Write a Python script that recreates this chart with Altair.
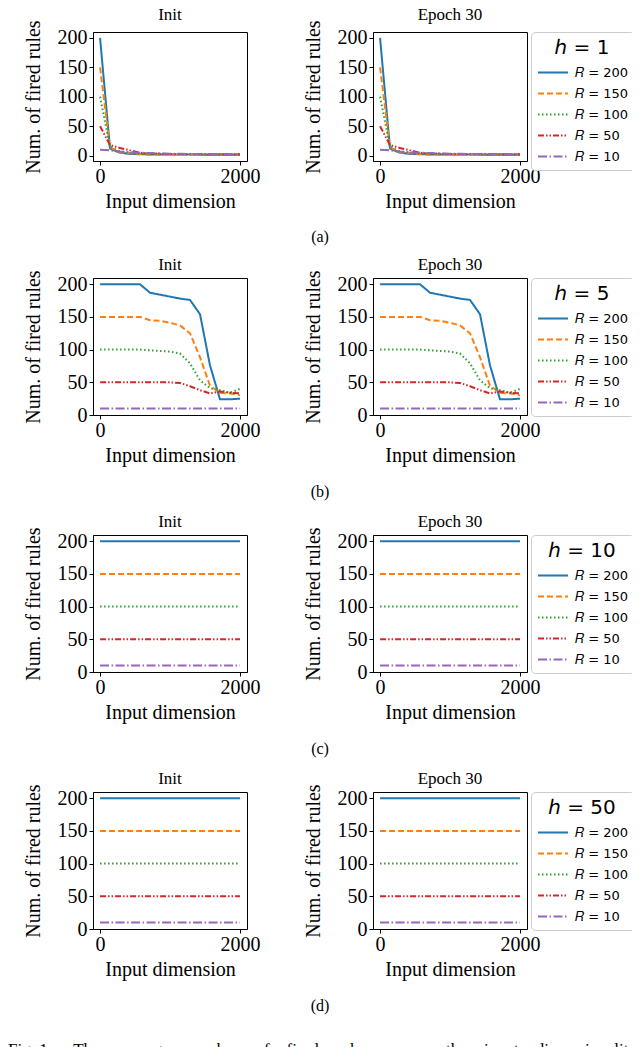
import altair as alt
import pandas as pd

# ---------------- data ----------------
X_DIM = [1, 143, 286, 429, 571, 714, 857, 1000, 1143, 1286, 1429, 1571, 1714, 1857, 2000]
R_VALUES = ["200", "150", "100", "50", "10"]
H_VALUES = ["1", "5", "10", "50"]
STAGES = ["Init", "Epoch 30"]
CAPTIONS = ["(a)", "(b)", "(c)", "(d)"]

# h = 1 (rows: R = 200, 150, 100, 50, 10)
H1_R200 = [200, 12, 5, 3, 2.5, 2, 2, 2, 2, 2, 1.8, 1.8, 1.8, 1.8, 1.8]
H1_R150 = [150, 14, 6, 4, 3, 2.5, 2.3, 2.2, 2, 2, 2, 2, 2, 2, 2]
H1_R100 = [100, 15, 7, 4.5, 3.5, 3, 2.5, 2.3, 2.2, 2, 2, 2, 2, 2, 2]
H1_R50 = [50, 18, 13, 9, 5, 4, 3.5, 3, 3, 2.8, 2.5, 2.5, 2.5, 2.5, 2.5]
H1_R10 = [10, 9, 7, 6, 5, 4.5, 4, 3.5, 3.2, 3, 3, 2.8, 2.7, 2.6, 2.5]

# h = 5
H5_R200 = [200, 200, 200, 200, 200, 187, 184, 181, 178, 176, 154, 76, 24, 24, 25]
H5_R150 = [150, 150, 150, 150, 150, 145, 144, 141, 137, 125, 88, 45, 34, 33, 30]
H5_R100 = [100, 100, 100, 100, 100, 99, 98, 97, 94, 79, 53, 41, 38, 34, 40]
H5_R50 = [50, 50, 50, 50, 50, 50, 50, 50, 49, 44, 38, 33, 36, 34, 33]
H5_R10 = [10, 10, 10, 10, 10, 10, 10, 10, 10, 10, 10, 10, 10, 10, 10]

# h = 10
H10_R200 = [200, 200, 200, 200, 200, 200, 200, 200, 200, 200, 200, 200, 200, 200, 200]
H10_R150 = [150, 150, 150, 150, 150, 150, 150, 150, 150, 150, 150, 150, 150, 150, 150]
H10_R100 = [100, 100, 100, 100, 100, 100, 100, 100, 100, 100, 100, 100, 100, 100, 100]
H10_R50 = [50, 50, 50, 50, 50, 50, 50, 50, 50, 50, 50, 50, 50, 50, 50]
H10_R10 = [10, 10, 10, 10, 10, 10, 10, 10, 10, 10, 10, 10, 10, 10, 10]

# h = 50
H50_R200 = [200, 200, 200, 200, 200, 200, 200, 200, 200, 200, 200, 200, 200, 200, 200]
H50_R150 = [150, 150, 150, 150, 150, 150, 150, 150, 150, 150, 150, 150, 150, 150, 150]
H50_R100 = [100, 100, 100, 100, 100, 100, 100, 100, 100, 100, 100, 100, 100, 100, 100]
H50_R50 = [50, 50, 50, 50, 50, 50, 50, 50, 50, 50, 50, 50, 50, 50, 50]
H50_R10 = [10, 10, 10, 10, 10, 10, 10, 10, 10, 10, 10, 10, 10, 10, 10]

SERIES = {
    "1": [H1_R200, H1_R150, H1_R100, H1_R50, H1_R10],
    "5": [H5_R200, H5_R150, H5_R100, H5_R50, H5_R10],
    "10": [H10_R200, H10_R150, H10_R100, H10_R50, H10_R10],
    "50": [H50_R200, H50_R150, H50_R100, H50_R50, H50_R10],
}

GAP = "\u00a0" * 4
FIG_CAPTION = ("Fig.\u00a01." + "\u00a0" * 5 + "The" + GAP + "average" + GAP + "number" + GAP + "of"
               + GAP + "fired" + GAP + "rules" + GAP + "versus" + GAP + "the" + GAP + "input"
               + GAP + "dimensionality")

# ---------------- styling ----------------
COLORS = ["#1f77b4", "#ff7f0e", "#2ca02c", "#d62728", "#9467bd"]
DASHES = [[1, 0], [6, 3], [1.5, 2.5], [6, 2, 1.5, 2, 1.5, 2], [9, 2.5, 1.5, 2.5]]
SERIF = "Liberation Serif"
LEGEND_SYMBOL = "M-1,0L3,0"
PANEL_W = 154
PANEL_H = [129, 137, 137, 137]
ORIGIN_X = 93          # page x of the left plot edge
ORIGIN_Y = 32          # page y of the first plot's top edge
CAP_H = [41, 44, 44, 50]
CAP_Y = [24, 25, 25, 25]


def frame(h):
    rows = []
    for stage in STAGES:
        for r, vals in zip(R_VALUES, SERIES[h]):
            for x, y in zip(X_DIM, vals):
                rows.append({"stage": stage, "R": r, "x": x, "y": y})
    return pd.DataFrame(rows)


def panel(df, h, stage, ydomain, height):
    leg = alt.Legend(title="\u210e = " + h, labelExpr="'\U0001D445 = ' + datum.label")
    return (
        alt.Chart(df)
        .transform_filter(alt.datum.stage == stage)
        .mark_line(strokeWidth=2, clip=True)
        .encode(
            x=alt.X("x:Q",
                    scale=alt.Scale(domain=[-100, 2100], nice=False, zero=False),
                    axis=alt.Axis(values=[0, 2000], format="d", title="Input dimension")),
            y=alt.Y("y:Q",
                    scale=alt.Scale(domain=ydomain, nice=False, zero=False),
                    axis=alt.Axis(values=[0, 50, 100, 150, 200], format="d",
                                  title="Num. of fired rules")),
            color=alt.Color("R:N", sort=R_VALUES,
                            scale=alt.Scale(domain=R_VALUES, range=COLORS), legend=leg),
            strokeDash=alt.StrokeDash("R:N", sort=R_VALUES,
                                      scale=alt.Scale(domain=R_VALUES, range=DASHES), legend=leg),
            detail="R:N",
        )
        .properties(width=PANEL_W, height=height, title=stage)
    )


def text_chart(text, x, y, align, baseline, size, height, width):
    return (
        alt.Chart(pd.DataFrame({"t": [text]}))
        .mark_text(font=SERIF, fontSize=size, align=align, baseline=baseline, color="black")
        .encode(x=alt.value(x), y=alt.value(y), text="t:N")
        .properties(width=width, height=height,
                    view=alt.ViewBackground(stroke="transparent"))
    )


parts = []
for i, h in enumerate(H_VALUES):
    df = frame(h)
    ydom = [-9, 210] if h == "1" else [0, 209.5]
    row = alt.hconcat(
        panel(df, h, "Init", ydom, PANEL_H[i]),
        panel(df, h, "Epoch 30", ydom, PANEL_H[i]),
        spacing=41,
    )
    parts.append(row)
    parts.append(text_chart(CAPTIONS[i], 320 - ORIGIN_X, CAP_Y[i], "center", "middle", 16,
                            CAP_H[i], 300))

parts.append(text_chart(FIG_CAPTION, 8 - ORIGIN_X, 9, "left", "top", 17, 14, 300))

chart = (
    alt.vconcat(*parts, spacing=0)
    .resolve_scale(color="independent", strokeDash="independent")
    .properties(
        autosize=alt.AutoSizeParams(type="none"),
        padding={"left": ORIGIN_X - 8, "top": ORIGIN_Y - 8,
                 "right": 624 - (ORIGIN_X - 8), "bottom": 1100},
    )
    .configure_view(stroke="black", strokeWidth=1)
    .configure_axis(
        grid=False,
        domainColor="black", tickColor="black", labelColor="black", titleColor="black",
        labelFont=SERIF, titleFont=SERIF, labelFontSize=20, titleFontSize=20,
        titleFontWeight="normal", tickSize=4, labelFlush=False,
    )
    .configure_axisX(labelPadding=1, titlePadding=5)
    .configure_axisY(labelPadding=2, titlePadding=14)
    .configure_title(font=SERIF, fontSize=17, fontWeight="normal", offset=-4, color="black")
    .configure_legend(
        orient="right", offset=-10, padding=6,
        strokeColor="#cccccc", fillColor="white", cornerRadius=4,
        titleFont="DejaVu Sans", titleFontSize=20, titleFontWeight="normal",
        titleAnchor="middle", titleColor="black", titlePadding=6,
        labelFont="DejaVu Sans", labelFontSize=13, labelColor="black",
        symbolType=LEGEND_SYMBOL, symbolStrokeWidth=2, symbolSize=225,
        rowPadding=5, labelOffset=21,
    )
)

chart.save("out.html", embed_options={"renderer": "svg", "actions": False})
